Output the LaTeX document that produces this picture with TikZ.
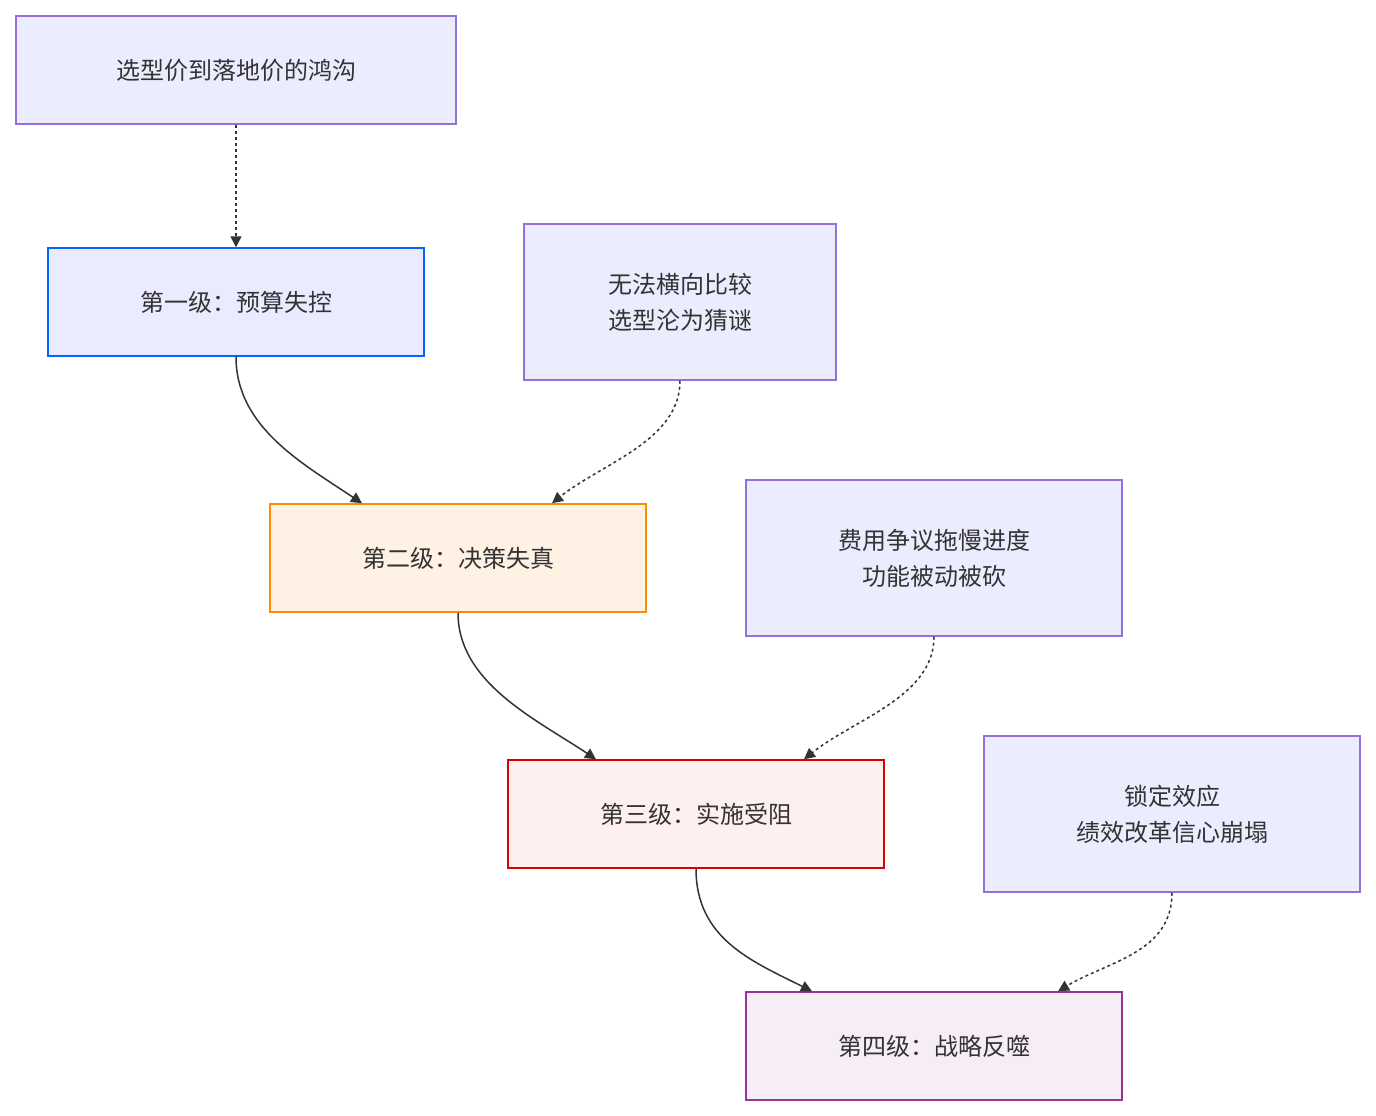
\documentclass[tikz,border=0pt]{standalone}
\usepackage{fontspec}
\setmainfont{Noto Sans CJK SC}
\usetikzlibrary{arrows.meta}
\definecolor{nf}{HTML}{ECECFF}\definecolor{ns}{HTML}{9370DB}
\begin{document}
\begin{tikzpicture}[x=1pt,y=-1pt,
 box/.style={draw,line width=1.5pt,minimum width=#1,inner sep=0pt,align=center,font=\fontsize{24}{36}\selectfont,text=black!80},
 note/.style={box=#1,fill=nf,draw=ns,minimum height=156},
 lvl/.style={box=376,minimum height=108},
 sol/.style={draw=black!80,line width=1.5pt,-{Triangle[length=11pt,width=11pt]}},
 dsh/.style={sol,dash pattern=on 3pt off 3pt}]
\useasboundingbox (0,0) rectangle (1376,1116);
\node[note=440,minimum height=108] (a) at (236,70) {选型价到落地价的鸿沟};
\node[lvl,fill=blue!8,draw=blue!60!cyan] (l1) at (236,302) {第一级：预算失控};
\node[note=312] (b) at (680,302) {无法横向比较\\选型沦为猜谜};
\node[lvl,fill=orange!10,draw=orange!90!yellow] (l2) at (458,558) {第二级：决策失真};
\node[note=376] (c) at (934,558) {费用争议拖慢进度\\功能被动被砍};
\node[lvl,fill=red!6,draw=red!85!black] (l3) at (696,814) {第三级：实施受阻};
\node[note=376] (d) at (1172,814) {锁定效应\\绩效改革信心崩塌};
\node[lvl,fill=violet!7,draw=violet!80] (l4) at (934,1046) {第四级：战略反噬};
\draw[dsh] (a.south) -- (l1.north);
\draw[sol] (l1.south) .. controls +(0,70) and +(-60,-40) .. ([xshift=-96]l2.north);
\draw[dsh] (b.south) .. controls +(0,60) and +(50,-40) .. ([xshift=94]l2.north);
\draw[sol] (l2.south) .. controls +(0,70) and +(-60,-40) .. ([xshift=-100]l3.north);
\draw[dsh] (c.south) .. controls +(0,60) and +(50,-40) .. ([xshift=108]l3.north);
\draw[sol] (l3.south) .. controls +(0,70) and +(-60,-30) .. ([xshift=-122]l4.north);
\draw[dsh] (d.south) .. controls +(0,60) and +(50,-30) .. ([xshift=124]l4.north);
\end{tikzpicture}
\end{document}
